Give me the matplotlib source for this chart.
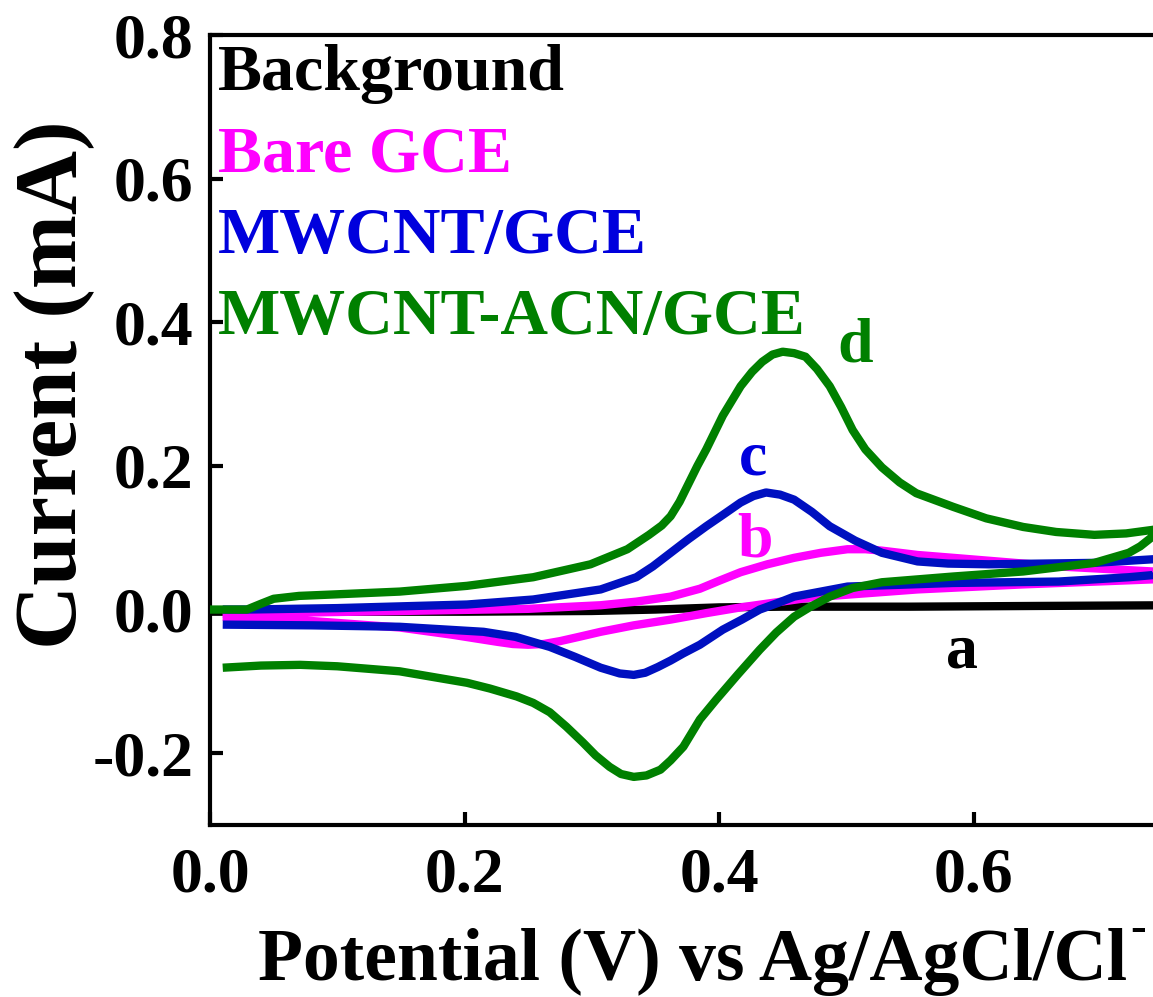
import matplotlib
matplotlib.use("Agg")
import matplotlib.pyplot as plt

plt.rcParams['font.family'] = ['Liberation Serif', 'DejaVu Serif']
plt.rcParams['font.weight'] = 'bold'
plt.rcParams['axes.unicode_minus'] = False

# ---------------- data (Potential V, Current mA) ----------------
bg_x = [0.0, 0.10, 0.20, 0.30, 0.35, 0.40, 0.45, 0.55, 0.65, 0.76]
bg_y = [-0.003, -0.003, -0.003, -0.002, 0.000, 0.003, 0.004, 0.004, 0.005, 0.006]

bare_fwd_x = [0.010, 0.150, 0.250, 0.307, 0.335, 0.362, 0.385, 0.400, 0.417, 0.438, 0.459, 0.480, 0.501, 0.515, 0.528, 0.556, 0.584, 0.667, 0.741, 0.760]
bare_fwd_y = [-0.006, -0.002, 0.001, 0.006, 0.011, 0.018, 0.029, 0.040, 0.052, 0.063, 0.072, 0.079, 0.084, 0.084, 0.082, 0.076, 0.072, 0.060, 0.053, 0.052]
bare_rev_x = [0.760, 0.741, 0.639, 0.556, 0.473, 0.417, 0.390, 0.362, 0.333, 0.307, 0.290, 0.275, 0.262, 0.250, 0.238, 0.226, 0.190, 0.149, 0.080, 0.010]
bare_rev_y = [0.048, 0.042, 0.035, 0.028, 0.017, 0.003, -0.005, -0.014, -0.022, -0.031, -0.038, -0.044, -0.048, -0.049, -0.048, -0.045, -0.035, -0.025, -0.016, -0.010]

mw_fwd_x = [0.010, 0.029, 0.100, 0.202, 0.254, 0.307, 0.335, 0.348, 0.362, 0.376, 0.390, 0.404, 0.417, 0.427, 0.437, 0.448, 0.459, 0.473, 0.487, 0.507, 0.528, 0.556, 0.580, 0.612, 0.695, 0.741, 0.760]
mw_fwd_y = [0.000, 0.000, 0.002, 0.007, 0.014, 0.028, 0.045, 0.060, 0.079, 0.098, 0.116, 0.133, 0.149, 0.158, 0.163, 0.160, 0.153, 0.136, 0.116, 0.096, 0.079, 0.067, 0.064, 0.063, 0.065, 0.070, 0.072]
mw_rev_x = [0.760, 0.741, 0.722, 0.667, 0.584, 0.501, 0.459, 0.446, 0.432, 0.418, 0.403, 0.385, 0.372, 0.362, 0.352, 0.342, 0.333, 0.322, 0.307, 0.287, 0.267, 0.240, 0.215, 0.149, 0.080, 0.010]
mw_rev_y = [0.072, 0.048, 0.045, 0.039, 0.037, 0.032, 0.018, 0.009, 0.000, -0.014, -0.028, -0.049, -0.061, -0.071, -0.080, -0.088, -0.091, -0.089, -0.081, -0.066, -0.052, -0.038, -0.031, -0.024, -0.022, -0.021]

acn_fwd_x = [0.000, 0.029, 0.040, 0.050, 0.070, 0.097, 0.149, 0.202, 0.254, 0.299, 0.328, 0.345, 0.355, 0.362, 0.369, 0.376, 0.383, 0.390, 0.403, 0.417, 0.426, 0.434, 0.442, 0.450, 0.459, 0.468, 0.477, 0.487, 0.496, 0.505, 0.515, 0.528, 0.542, 0.555, 0.584, 0.610, 0.639, 0.665, 0.695, 0.720, 0.741, 0.760]
acn_fwd_y = [0.000, 0.000, 0.008, 0.015, 0.019, 0.021, 0.025, 0.033, 0.045, 0.063, 0.084, 0.104, 0.117, 0.130, 0.150, 0.175, 0.200, 0.223, 0.270, 0.311, 0.331, 0.345, 0.355, 0.359, 0.357, 0.352, 0.335, 0.311, 0.282, 0.250, 0.223, 0.198, 0.177, 0.162, 0.143, 0.127, 0.115, 0.108, 0.104, 0.106, 0.111, 0.118]
acn_rev_x = [0.760, 0.741, 0.731, 0.722, 0.695, 0.639, 0.584, 0.528, 0.505, 0.487, 0.472, 0.459, 0.445, 0.432, 0.415, 0.398, 0.385, 0.372, 0.362, 0.354, 0.343, 0.333, 0.323, 0.314, 0.303, 0.293, 0.280, 0.267, 0.254, 0.241, 0.220, 0.202, 0.149, 0.100, 0.071, 0.040, 0.010]
acn_rev_y = [0.125, 0.102, 0.088, 0.079, 0.065, 0.053, 0.046, 0.038, 0.030, 0.018, 0.004, -0.010, -0.032, -0.056, -0.090, -0.125, -0.153, -0.191, -0.210, -0.223, -0.231, -0.233, -0.229, -0.219, -0.203, -0.185, -0.163, -0.143, -0.130, -0.121, -0.110, -0.102, -0.086, -0.079, -0.077, -0.078, -0.081]

legend_labels = ["Background", "Bare GCE", "MWCNT/GCE", "MWCNT-ACN/GCE"]
curve_tags = ["a", "b", "c", "d"]
x_ticks = [0.0, 0.2, 0.4, 0.6]
x_ticklabels = ["0.0", "0.2", "0.4", "0.6"]
y_ticks = [-0.2, 0.0, 0.2, 0.4, 0.6, 0.8]
y_ticklabels = ["-0.2", "0.0", "0.2", "0.4", "0.6", "0.8"]

# ---------------- figure ----------------
W, H = 1153, 997
fig = plt.figure(figsize=(W / 100, H / 100), dpi=100)
fig.patch.set_facecolor('white')
ax = fig.add_axes([210 / W, (H - 825) / H, 1018 / W, 790 / H])

c_black = '#000000'
c_mag = '#FF00FF'
c_blue = '#0010C0'
c_green = '#008000'
lw = 6.0

ax.plot(bg_x, bg_y, color=c_black, lw=lw, solid_capstyle='butt', zorder=2)
ax.plot(bare_fwd_x + bare_rev_x, bare_fwd_y + bare_rev_y, color=c_mag, lw=lw,
        solid_joinstyle='round', solid_capstyle='butt', zorder=3)
ax.plot(mw_fwd_x + mw_rev_x, mw_fwd_y + mw_rev_y, color=c_blue, lw=lw,
        solid_joinstyle='round', solid_capstyle='butt', zorder=4)
ax.plot(acn_fwd_x + acn_rev_x, acn_fwd_y + acn_rev_y, color=c_green, lw=lw,
        solid_joinstyle='round', solid_capstyle='butt', zorder=5)

ax.set_xlim(0.0, 0.8)
ax.set_ylim(-0.3, 0.8)
ax.set_xticks(x_ticks)
ax.set_xticklabels(x_ticklabels)
ax.set_yticks(y_ticks)
ax.set_yticklabels(y_ticklabels)

for s in ax.spines.values():
    s.set_linewidth(3.0)
ax.tick_params(axis='both', direction='in', length=9.5, width=3.0,
               labelsize=46, top=False, right=False)
ax.tick_params(axis='x', pad=16)
ax.tick_params(axis='y', pad=12)
for lab in ax.get_xticklabels() + ax.get_yticklabels():
    lab.set_fontweight('bold')

# legend-like text
text_colors = [c_black, c_mag, '#0000DD', c_green]
leg_y = [0.724, 0.610, 0.497, 0.384]
for lbl, col, yy in zip(legend_labels, text_colors, leg_y):
    ax.text(0.006, yy, lbl, color=col, fontsize=47.5, fontweight='bold',
            ha='left', va='baseline', zorder=6)

# curve tags
tag_pos = [(0.591, -0.081), (0.428, 0.074), (0.427, 0.188), (0.507, 0.345)]
tag_colors = [c_black, c_mag, '#0000DD', c_green]
for t, (tx, ty), col in zip(curve_tags, tag_pos, tag_colors):
    ax.text(tx, ty, t, color=col, fontsize=46, fontweight='bold',
            ha='center', va='baseline', zorder=6)

# axis labels
xl = fig.text(258 / W, 1 - 980 / H, "Potential (V) vs Ag/AgCl/Cl",
              fontsize=53, fontweight='bold', ha='left', va='baseline')
fig.canvas.draw()
bb = xl.get_window_extent(renderer=fig.canvas.get_renderer())
fig.text((bb.x1 + 3) / W, 1 - 930 / H, "-", fontsize=34, fontweight='bold',
         ha='left', va='center')
fig.text(55 / W, 1 - 385 / H, "Current (mA)", fontsize=64, fontweight='bold',
         rotation=90, ha='center', va='center')

fig.savefig("out.png", dpi=100)
